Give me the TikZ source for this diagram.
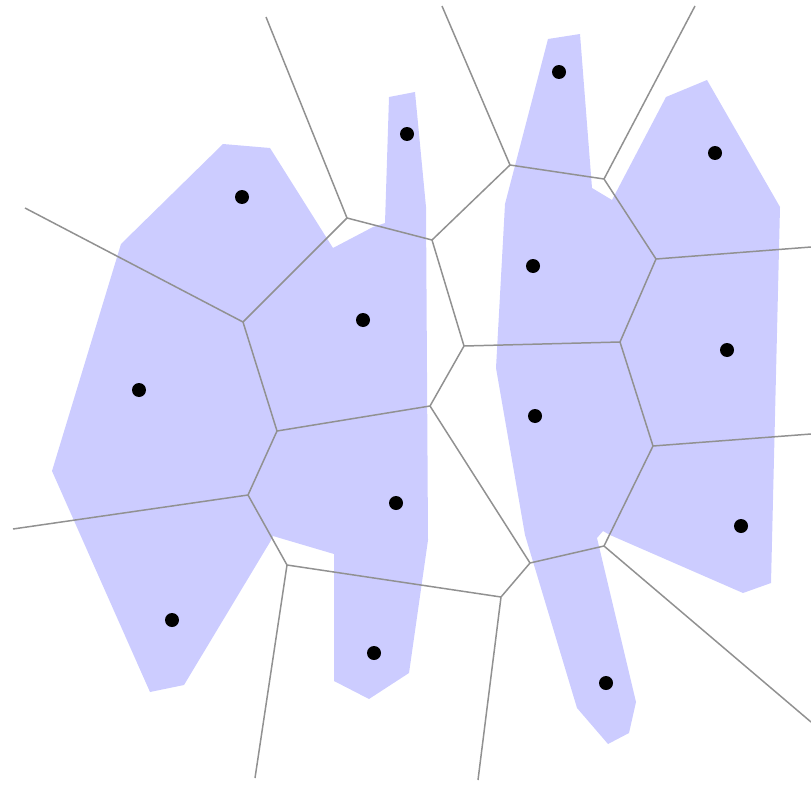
\documentclass[tikz,border=0pt]{standalone}
\usepackage{tikz}
\usepackage{xcolor}

\definecolor{cellblue}{RGB}{204,204,255}
\definecolor{edgegray}{RGB}{145,145,145}

\begin{document}
\begin{tikzpicture}[x=0.02cm, y=-0.02cm,
    cell/.style={fill=cellblue, draw=none},
    edge/.style={draw=edgegray, line width=0.85pt},
    site/.style={circle, fill=black, inner sep=0pt, minimum size=0.28cm}]
    \useasboundingbox (0,0) rectangle (811,784);

    % blue regions
    \path[cell] (389,97) -- (415,92) -- (426,207) -- (428,540) -- (409,673)
        -- (369,699) -- (334,681) -- (334,554) -- (273,536) -- (270,542)
        -- (184,685) -- (150,692) -- (52,471) -- (121,244) -- (223,144)
        -- (270,148) -- (333,248) -- (373,227) -- (385,223) -- cycle;
    \path[cell] (548,39) -- (580,34) -- (592,188) -- (612,200) -- (666,97)
        -- (707,80) -- (780,207) -- (771,583) -- (743,593) -- (610,535)
        -- (603,531) -- (597,538) -- (636,702) -- (629,733) -- (608,744)
        -- (577,708) -- (525,535) -- (496,368) -- (505,204) -- cycle;

    % voronoi vertices
    \coordinate (v1) at (347,218);
    \coordinate (v2) at (432,240);
    \coordinate (v3) at (243,322);
    \coordinate (v4) at (277,431);
    \coordinate (v5) at (430,406);
    \coordinate (v6) at (248,495);
    \coordinate (v7) at (287,565);
    \coordinate (v8) at (510,165);
    \coordinate (v9) at (604,179);
    \coordinate (v10) at (656,259);
    \coordinate (v11) at (464,346);
    \coordinate (v12) at (620,342);
    \coordinate (v13) at (653,446);
    \coordinate (v14) at (604,546);
    \coordinate (v15) at (530,563);
    \coordinate (v16) at (501,597);
    % free ends
    \coordinate (e1) at (266,17);
    \coordinate (e2) at (25,208);
    \coordinate (e3) at (13,529);
    \coordinate (e4) at (255,778);
    \coordinate (e5) at (478,780);
    \coordinate (e6) at (442,6);
    \coordinate (e7) at (695,6);
    \coordinate (e8) at (811,247);
    \coordinate (e9) at (811,434);
    \coordinate (e10) at (811,722);

    % edges
    \foreach \a/\b in {v1/e1, v1/v2, v1/v3, v3/e2, v3/v4, v4/v5, v4/v6,
        v6/e3, v6/v7, v7/e4, v7/v16, v16/e5, v16/v15, v15/v14, v15/v5,
        v5/v11, v2/v11, v2/v8, v8/e6, v8/v9, v9/e7, v9/v10, v10/e8,
        v10/v12, v11/v12, v12/v13, v13/e9, v13/v14, v14/e10}
        \draw[edge] (\a) -- (\b);

    % sites
    \node[site] (s1) at (242,197) {};
    \node[site] (s2) at (407,134) {};
    \node[site] (s3) at (559,72) {};
    \node[site] (s4) at (715,153) {};
    \node[site] (s5) at (363,320) {};
    \node[site] (s6) at (139,390) {};
    \node[site] (s7) at (533,266) {};
    \node[site] (s8) at (727,350) {};
    \node[site] (s9) at (535,416) {};
    \node[site] (s10) at (396,503) {};
    \node[site] (s11) at (172,620) {};
    \node[site] (s12) at (374,653) {};
    \node[site] (s13) at (606,683) {};
    \node[site] (s14) at (741,526) {};
\end{tikzpicture}
\end{document}
